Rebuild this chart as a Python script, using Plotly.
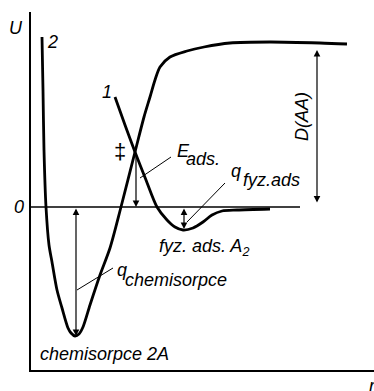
import plotly.graph_objects as go

# Potential energy U versus distance r (arbitrary units)
# curve 2: chemisorption of 2A
r_chem = [1.1, 1.2, 1.3, 1.5, 1.8, 2.1, 2.6, 3.1, 3.7, 4.0, 4.4, 4.8, 5.2, 5.9, 6.9, 7.9, 9.0,
          10.4, 11.3, 11.9, 12.4, 12.9, 13.9, 15.6, 17.3, 19.9, 23.9, 28.9, 31.6]
U_chem = [17.0, 11.7, 5.7, 0.0, -3.8, -5.5, -8.3, -10.1, -12.1, -12.6, -12.9, -12.7, -12.0,
          -9.8, -6.8, -4.1, 0.0, 5.5, 9.0, 11.0, 12.7, 14.0, 15.0, 15.6, 16.0, 16.4, 16.5,
          16.4, 16.3]

# curve 1: physical adsorption of A2
r_phys = [8.4, 9.4, 10.4, 11.5, 12.6, 13.6, 14.4, 15.2, 16.2, 17.2, 18.1, 19.1, 20.6, 23.9]
U_phys = [11.0, 8.2, 5.5, 2.7, 0.0, -1.3, -2.0, -2.3, -2.1, -1.5, -0.8, -0.4, -0.3, -0.2]

# energy levels used by the dimension arrows
r_zero_end = 26.9
E_ads_r, E_ads_top = 10.5, 5.5
q_fyz_r, q_fyz_min = 15.3, -2.2
q_chem_r, q_chem_min = 4.5, -12.9
D_r, D_top, D_bottom = 28.6, 15.7, 0.3

FONT = "Liberation Sans"
INK = "black"

fig = go.Figure()
fig.add_trace(go.Scatter(x=[0, r_zero_end], y=[0, 0], mode="lines",
                         line=dict(color=INK, width=1.5), hoverinfo="skip"))
fig.add_trace(go.Scatter(x=r_chem, y=U_chem, mode="lines",
                         line=dict(color=INK, width=2.8, shape="spline", smoothing=0.8),
                         hoverinfo="skip"))
fig.add_trace(go.Scatter(x=r_phys, y=U_phys, mode="lines",
                         line=dict(color=INK, width=2.8, shape="spline", smoothing=0.8),
                         hoverinfo="skip"))


def arrow(x, y_from, y_to, both=False):
    fig.add_annotation(x=x, y=y_to, ax=x, ay=y_from, xref="x", yref="y",
                       axref="x", ayref="y", text="", showarrow=True,
                       arrowhead=2, arrowsize=1.1, arrowwidth=1.2, arrowcolor=INK,
                       arrowside="end+start" if both else "end",
                       standoff=0, startstandoff=0)


arrow(E_ads_r, E_ads_top, 0)
arrow(q_fyz_r, 0, q_fyz_min, both=True)
arrow(q_chem_r, 0, q_chem_min, both=True)
arrow(D_r, D_bottom, D_top, both=True)


def leader(x0, y0, x1, y1):
    fig.add_shape(type="line", x0=x0, y0=y0, x1=x1, y1=y1, xref="x", yref="y",
                  line=dict(color=INK, width=1))


leader(10.9, 2.9, 14.0, 5.0)
leader(15.6, -1.5, 19.4, 2.4)
leader(4.6, -8.3, 8.2, -6.1)


def label(x, y, text, size=18, anchor="left", angle=0, italic=True, ref="x"):
    fig.add_annotation(x=x, y=y, xref=ref, yref="y" if ref == "x" else "paper",
                       text=text, showarrow=False,
                       xanchor=anchor, yanchor="middle", textangle=angle,
                       font=dict(family=FONT, size=size, color=INK,
                                 style="italic" if italic else "normal"))


# axis captions sit outside the plotting area, so they use paper coordinates
label(-0.044, 0.955, "U", size=18, anchor="center", ref="paper")
label(-0.035, 0.455, "0", size=18, anchor="center", ref="paper")
label(0.981, -0.045, "r", size=18, anchor="left", ref="paper")

label(2.1, 16.5, "2", anchor="center")
label(7.6, 11.5, "1", anchor="center")
label(8.9, 5.6, "‡", size=22, anchor="center", italic=False)
label(14.4, 5.6, "E")
label(15.3, 4.8, "ads.")
label(19.8, 3.6, "q")
label(21.0, 2.7, "fyz.ads")
label(12.6, -4.0, "fyz. ads. A<sub>2</sub>")
label(8.4, -6.3, "q")
label(9.2, -7.3, "chemisorpce")
label(0.7, -14.7, "chemisorpce 2A")
label(27.1, 9.0, "D(AA)", anchor="center", angle=-90)

fig.update_layout(
    width=374, height=391,
    margin=dict(l=31, r=0, t=12, b=21),
    paper_bgcolor="white", plot_bgcolor="white",
    showlegend=False,
    xaxis=dict(range=[0, 34.3], showgrid=False, zeroline=False, showticklabels=False,
               ticks="", showline=True, linecolor=INK, linewidth=2, fixedrange=True),
    yaxis=dict(range=[-16.3, 19.5], showgrid=False, zeroline=False, showticklabels=False,
               ticks="", showline=True, linecolor=INK, linewidth=2, fixedrange=True),
)

fig.write_html("out.html")
